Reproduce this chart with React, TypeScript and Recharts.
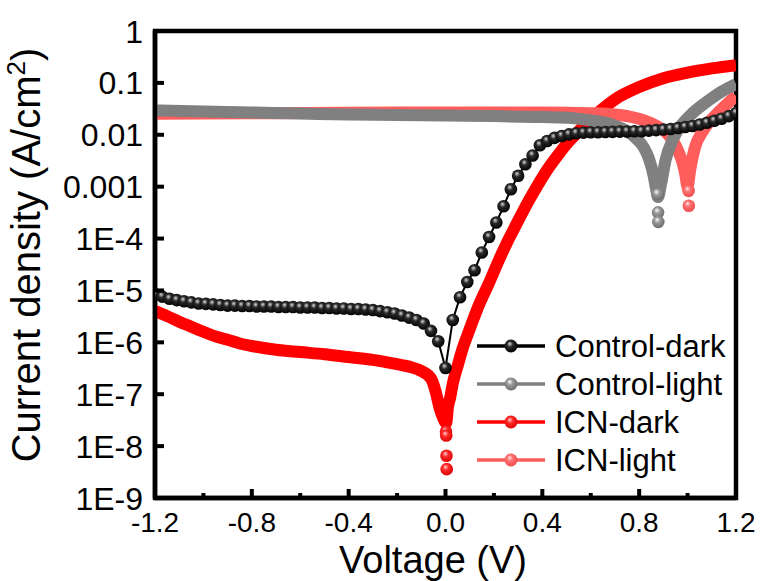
import { ComposedChart, Line, XAxis, YAxis, ReferenceArea, Legend } from 'recharts'

const FONT = "'Liberation Sans', Arial, sans-serif"

// voltage sweep used for the control device in the dark
const SWEEP_START = -1.2
const SWEEP_STEP = 0.03

// Control-dark: |J| (A/cm2), one value per sweep step
const controlDarkJ = [
  8.5e-6, 7.6e-6, 6.9e-6, 6.5e-6, 6.2e-6, 5.9e-6, 5.6e-6, 5.5e-6, 5.4e-6, 5.25e-6,
  5.1e-6, 5.1e-6, 5.0e-6, 5.0e-6, 4.9e-6, 4.9e-6, 4.9e-6, 4.8e-6, 4.8e-6, 4.8e-6,
  4.7e-6, 4.7e-6, 4.7e-6, 4.6e-6, 4.6e-6, 4.5e-6, 4.5e-6, 4.4e-6, 4.4e-6, 4.3e-6,
  4.2e-6, 4.0e-6, 3.8e-6, 3.6e-6, 3.3e-6, 3.0e-6, 2.7e-6, 2.3e-6, 1.66e-6, 1.05e-6,
  3.2e-7, 2.7e-6, 7.4e-6, 1.45e-5, 2.45e-5, 5.4e-5, 1.07e-4, 2.04e-4, 4.2e-4, 8.9e-4,
  1.62e-3, 2.7e-3, 4.0e-3, 6.3e-3, 7.6e-3, 8.7e-3, 9.5e-3, 1.02e-2, 1.07e-2, 1.1e-2,
  1.12e-2, 1.12e-2, 1.13e-2, 1.14e-2, 1.15e-2, 1.16e-2, 1.17e-2, 1.17e-2, 1.2e-2, 1.23e-2,
  1.26e-2, 1.29e-2, 1.35e-2, 1.41e-2, 1.48e-2, 1.58e-2, 1.7e-2, 1.86e-2, 2.04e-2, 2.29e-2,
  2.63e-2,
]

// Control-light
const controlLightV = [
  -1.2, -1.0, -0.8, -0.6, -0.4, -0.2, 0.0, 0.2, 0.4, 0.5, 0.6, 0.68, 0.75, 0.79, 0.82,
  0.84, 0.86, 0.87, 0.878, 0.89, 0.91, 0.94, 0.98, 1.02, 1.06, 1.1, 1.14, 1.2,
]
const controlLightJ = [
  2.95e-2, 2.82e-2, 2.69e-2, 2.57e-2, 2.45e-2, 2.4e-2, 2.34e-2, 2.29e-2, 2.19e-2, 2.14e-2,
  1.9e-2, 1.62e-2, 1.17e-2, 8.3e-3, 5.6e-3, 3.5e-3, 1.6e-3, 8.9e-4, 6.3e-4, 1.1e-3,
  3.4e-3, 8.3e-3, 1.66e-2, 2.6e-2, 3.7e-2, 5.1e-2, 6.8e-2, 9.5e-2,
]
const controlLightTipV = [0.876, 0.878, 0.879]
const controlLightTipJ = [7.2e-4, 3.2e-4, 2.1e-4]

// ICN-dark
const icnDarkV = [
  -1.2, -1.15, -1.1, -1.05, -1.0, -0.95, -0.9, -0.85, -0.8, -0.7, -0.6, -0.5, -0.4, -0.3,
  -0.2, -0.15, -0.1, -0.06, -0.04, -0.025, -0.01, 0.003, 0.01, 0.02, 0.03, 0.05, 0.07,
  0.1, 0.14, 0.18, 0.22, 0.26, 0.3, 0.34, 0.38, 0.42, 0.46, 0.5, 0.55, 0.6, 0.65, 0.7,
  0.8, 0.9, 1.0, 1.1, 1.2,
]
const icnDarkJ = [
  4.0e-6, 3.2e-6, 2.5e-6, 2.0e-6, 1.6e-6, 1.3e-6, 1.12e-6, 9.5e-7, 8.5e-7, 7.2e-7, 6.5e-7,
  5.9e-7, 5.2e-7, 4.6e-7, 3.8e-7, 3.4e-7, 2.8e-7, 2.0e-7, 1.1e-7, 5.6e-8, 3.5e-8, 2.8e-8,
  5.6e-8, 8.9e-8, 1.6e-7, 3.5e-7, 7.4e-7, 1.8e-6, 5.5e-6, 1.4e-5, 3.8e-5, 9.5e-5, 2.2e-4,
  5.0e-4, 1.05e-3, 2.1e-3, 3.8e-3, 6.6e-3, 1.17e-2, 2.0e-2, 3.2e-2, 4.8e-2, 8.3e-2, 0.123,
  0.158, 0.19, 0.22,
]
const icnDarkTipV = [0.002, 0.003, 0.004, 0.005]
const icnDarkTipJ = [1.9e-8, 1.6e-8, 6.5e-9, 3.6e-9]

// ICN-light
const icnLightV = [
  -1.2, -0.8, -0.4, 0.0, 0.4, 0.6, 0.7, 0.76, 0.82, 0.87, 0.91, 0.94, 0.96, 0.98, 0.99,
  1.0, 1.01, 1.03, 1.06, 1.09, 1.13, 1.17, 1.2,
]
const icnLightJ = [
  2.55e-2, 2.6e-2, 2.65e-2, 2.7e-2, 2.7e-2, 2.6e-2, 2.45e-2, 2.24e-2, 1.9e-2, 1.5e-2,
  1.12e-2, 7.6e-3, 5.0e-3, 2.8e-3, 1.8e-3, 1.0e-3, 2.0e-3, 5.6e-3, 1.12e-2, 1.78e-2,
  2.8e-2, 4.2e-2, 5.6e-2,
]
const icnLightTipV = [1.004, 1.005]
const icnLightTipJ = [8.3e-4, 4.3e-4]

const xMajorTicks = [-1.2, -0.8, -0.4, 0, 0.4, 0.8, 1.2]
const xMinorTicks = [-1.0, -0.6, -0.2, 0.2, 0.6, 1.0]
const yTicks = [1e-9, 1e-8, 1e-7, 1e-6, 1e-5, 1e-4, 1e-3, 1e-2, 1e-1, 1]
const yTickLabels = ['1E-9', '1E-8', '1E-7', '1E-6', '1E-5', '1E-4', '0.001', '0.01', '0.1', '1']

const seriesNames = ['Control-dark', 'Control-light', 'ICN-dark', 'ICN-light']
const seriesColors = ['#000000', '#808080', '#ff0000', '#ff5c5c']
const ballIds = ['ballBlack', 'ballGray', 'ballRed', 'ballPink']

const toPoints = (v: number[], j: number[]) => v.map((x, i) => ({ v: x, j: j[i] }))

const controlDark = controlDarkJ.map((j, i) => ({
  v: +(SWEEP_START + i * SWEEP_STEP).toFixed(2),
  j,
}))
const controlLight = toPoints(controlLightV, controlLightJ)
const controlLightTip = toPoints(controlLightTipV, controlLightTipJ)
const icnDark = toPoints(icnDarkV, icnDarkJ)
const icnDarkTip = toPoints(icnDarkTipV, icnDarkTipJ)
const icnLight = toPoints(icnLightV, icnLightJ)
const icnLightTip = toPoints(icnLightTipV, icnLightTipJ)

function BallGradients() {
  const shades = [
    ['#d8d8d8', '#2a2a2a', '#000000'],
    ['#ffffff', '#9a9a9a', '#6a6a6a'],
    ['#ffd0d0', '#ff2a2a', '#dd0000'],
    ['#ffe6e6', '#ff7070', '#ee4a4a'],
  ]
  return (
    <defs>
      {ballIds.map((id, i) => (
        <radialGradient key={id} id={id} cx="45%" cy="42%" r="60%" fx="40%" fy="32%">
          <stop offset="0%" stopColor={shades[i][0]} />
          <stop offset="38%" stopColor={shades[i][1]} />
          <stop offset="100%" stopColor={shades[i][2]} />
        </radialGradient>
      ))}
    </defs>
  )
}

const ball = (id: string, r = 6.3) => (props: any) => (
  <circle key={`${id}-${props.index}`} cx={props.cx} cy={props.cy} r={r} fill={`url(#${id})`} />
)

const isMajor = (v: number) => xMajorTicks.some(t => Math.abs(t - v) < 1e-6)

function XTick({ x, y, payload }: any) {
  const major = isMajor(payload.value)
  return (
    <g>
      <line x1={x} x2={x} y1={y} y2={y - (major ? 9 : 5)} stroke="#000" strokeWidth={4} />
      {major && (
        <text x={x} y={y + 34} textAnchor="middle" fontSize={28} fontFamily={FONT} fill="#000">
          {payload.value.toFixed(1)}
        </text>
      )}
    </g>
  )
}

function YTick({ x, y, payload }: any) {
  const idx = yTicks.findIndex(t => Math.abs(Math.log10(t) - Math.log10(payload.value)) < 1e-6)
  return (
    <g>
      <line x1={x} x2={x + 9} y1={y} y2={y} stroke="#000" strokeWidth={4} />
      <text x={x - 12} y={y} dy="0.36em" textAnchor="end" fontSize={32} fontFamily={FONT} fill="#000">
        {yTickLabels[idx]}
      </text>
    </g>
  )
}

function YTitle() {
  return (
    <text
      transform="translate(40,255) rotate(-90)"
      textAnchor="middle"
      fontSize={40}
      fontFamily={FONT}
      fill="#000"
    >
      Current density (A/cm
      <tspan dy={-15} fontSize={26}>2</tspan>
      <tspan dy={15}>)</tspan>
    </text>
  )
}

function XTitle() {
  return (
    <text x={433} y={573} textAnchor="middle" fontSize={38} fontFamily={FONT} fill="#000">
      Voltage (V)
    </text>
  )
}

function LegendBox() {
  return (
    <svg width={270} height={160} style={{ display: 'block' }}>
      {seriesNames.map((name, i) => {
        const cy = 24 + i * 38
        return (
          <g key={name}>
            <line x1={7} x2={75} y1={cy} y2={cy} stroke={seriesColors[i]} strokeWidth={3.5} />
            <circle cx={41} cy={cy} r={6.5} fill={`url(#${ballIds[i]})`} />
            <text x={85} y={cy} dy="0.36em" fontSize={31} fontFamily={FONT} fill="#000">
              {name}
            </text>
          </g>
        )
      })}
    </svg>
  )
}

export default function App() {
  return (
    <div style={{ position: 'absolute', left: 0, top: 0, width: 766, height: 581, background: '#fff' }}>
      <ComposedChart
        width={766}
        height={581}
        margin={{ top: 31, right: 30, bottom: 13, left: 15 }}
      >
        <BallGradients />
        <XAxis
          dataKey="v"
          type="number"
          domain={[-1.2, 1.2]}
          ticks={[...xMajorTicks, ...xMinorTicks].sort((a, b) => a - b)}
          allowDataOverflow
          height={70}
          tickSize={0}
          tickMargin={0}
          tickLine={false}
          axisLine={{ stroke: '#000', strokeWidth: 4.5 }}
          tick={<XTick />}
          interval={0}
          label={<XTitle />}
        />
        <YAxis
          dataKey="j"
          scale="log"
          type="number"
          domain={[1e-9, 1]}
          ticks={yTicks}
          allowDataOverflow
          width={140}
          tickSize={0}
          tickMargin={0}
          tickLine={false}
          axisLine={{ stroke: '#000', strokeWidth: 4.5 }}
          tick={<YTick />}
          interval={0}
          label={<YTitle />}
        />
        <Legend
          layout="vertical"
          align="center"
          verticalAlign="middle"
          wrapperStyle={{ left: 470, top: 322, width: 270, height: 160 }}
          content={() => <LegendBox />}
        />
        <Line
          data={icnDark}
          dataKey="j"
          type="monotone"
          stroke={seriesColors[2]}
          strokeWidth={12}
          strokeLinejoin="round"
          dot={false}
          activeDot={false}
          isAnimationActive={false}
        />
        <Line
          data={icnLight}
          dataKey="j"
          type="monotone"
          stroke={seriesColors[3]}
          strokeWidth={12}
          strokeLinejoin="round"
          dot={false}
          activeDot={false}
          isAnimationActive={false}
        />
        <Line
          data={controlDark}
          dataKey="j"
          type="linear"
          stroke={seriesColors[0]}
          strokeWidth={2}
          dot={ball('ballBlack')}
          activeDot={false}
          isAnimationActive={false}
        />
        <Line
          data={controlLight}
          dataKey="j"
          type="monotone"
          stroke={seriesColors[1]}
          strokeWidth={12}
          strokeLinejoin="round"
          dot={false}
          activeDot={false}
          isAnimationActive={false}
        />
        <Line
          data={icnDarkTip}
          dataKey="j"
          stroke="none"
          dot={ball('ballRed')}
          activeDot={false}
          isAnimationActive={false}
        />
        <Line
          data={controlLightTip}
          dataKey="j"
          stroke="none"
          dot={ball('ballGray')}
          activeDot={false}
          isAnimationActive={false}
        />
        <Line
          data={icnLightTip}
          dataKey="j"
          stroke="none"
          dot={ball('ballPink')}
          activeDot={false}
          isAnimationActive={false}
        />
        <ReferenceArea
          x1={-1.2}
          x2={1.2}
          y1={1e-9}
          y2={1}
          fill="none"
          fillOpacity={0}
          stroke="#000"
          strokeWidth={4.5}
        />
      </ComposedChart>
    </div>
  )
}
